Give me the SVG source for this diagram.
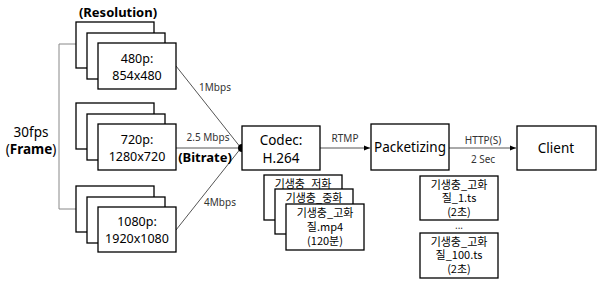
<svg xmlns="http://www.w3.org/2000/svg" width="602" height="284" viewBox="0 0 602 284">
<defs>
<style>
.box{fill:#fff;stroke:#000;stroke-width:1.3}
.t{font-family:"Noto Sans","Noto Sans CJK KR",sans-serif;fill:#000;text-anchor:middle}
.res{font-size:12.5px}
.big{font-size:13.5px}
.lbl{font-size:10px;fill:#333}
.kr{font-family:"Noto Sans CJK KR","Noto Sans",sans-serif;font-size:11px;fill:#000;text-anchor:middle}
.ln{stroke:#555;stroke-width:1;fill:none}
.gl{stroke:#888;stroke-width:1;fill:none}
</style>
<marker id="ah" viewBox="0 0 6 6" refX="6" refY="3" markerWidth="6" markerHeight="6" orient="auto">
<path d="M0,0.5 L6,3 L0,5.5 z" fill="#000"/>
</marker>
</defs>
<rect width="602" height="284" fill="#fff"/>

<g id="connectors">
<path class="gl" d="M76,44 H59 V209 H76"/>
<line class="ln" x1="176" y1="66" x2="241" y2="148"/>
<line class="ln" x1="176" y1="148" x2="241" y2="148"/>
<line class="ln" x1="176" y1="230" x2="241" y2="148"/>
<path d="M242,144 A4,4 0 0 0 242,152 Z" fill="#000"/>
<line class="ln" x1="320" y1="148" x2="370" y2="148" marker-end="url(#ah)"/>
<line class="ln" x1="449" y1="148" x2="516" y2="148" marker-end="url(#ah)"/>
<text class="t lbl" x="215" y="91">1Mbps</text>
<text class="t lbl" x="208" y="141">2.5 Mbps</text>
<text class="t" x="205" y="162" style="font-size:13px;font-weight:bold">(Bitrate)</text>
<text class="t lbl" x="220" y="206">4Mbps</text>
<text class="t lbl" x="345" y="142">RTMP</text>
<text class="t lbl" x="483" y="144">HTTP(S)</text>
<text class="t lbl" x="483" y="163">2 Sec</text>
</g>

<g id="labels">
<text class="t" x="118" y="17" style="font-size:13px;font-weight:bold">(Resolution)</text>
<text class="t" x="31" y="137" style="font-size:13.5px">30fps</text>
<text class="t" x="31" y="154" style="font-size:13.5px">(<tspan font-weight="bold">Frame</tspan>)</text>
</g>

<g id="res480">
<rect class="box" x="76" y="22" width="78" height="46"/>
<rect class="box" x="87" y="33" width="78" height="46"/>
<rect class="box" x="98" y="43" width="78" height="46"/>
<text class="t res" x="137" y="63">480p:</text>
<text class="t res" x="137" y="80">854x480</text>
</g>

<g id="res720">
<rect class="box" x="76" y="103" width="78" height="46"/>
<rect class="box" x="87" y="114" width="78" height="46"/>
<rect class="box" x="98" y="124" width="78" height="46"/>
<text class="t res" x="137" y="144">720p:</text>
<text class="t res" x="137" y="161">1280x720</text>
</g>

<g id="res1080">
<rect class="box" x="76" y="186" width="78" height="46"/>
<rect class="box" x="87" y="197" width="78" height="46"/>
<rect class="box" x="98" y="207" width="78" height="45"/>
<text class="t res" x="137" y="226">1080p:</text>
<text class="t res" x="137" y="243">1920x1080</text>
</g>

<g id="codec">
<rect class="box" x="242" y="126" width="78" height="44"/>
<text class="t big" x="281" y="145">Codec:</text>
<text class="t big" x="281" y="163">H.264</text>
</g>

<g id="packetizing">
<rect class="box" x="371" y="124" width="78" height="46"/>
<text class="t big" x="410" y="152">Packetizing</text>
</g>

<g id="client">
<rect class="box" x="517" y="126" width="79" height="44"/>
<text class="t big" x="556" y="153">Client</text>
</g>

<g id="mp4">
<rect class="box" x="264" y="175" width="78" height="45"/>
<text class="kr" x="303" y="188">기생충_저화</text>
<rect class="box" x="275" y="189" width="78" height="45"/>
<text class="kr" x="314" y="202">기생충_중화</text>
<rect class="box" x="286" y="204" width="78" height="46"/>
<text class="kr" x="325" y="217">기생충_고화</text>
<text class="kr" x="325" y="231">질.mp4</text>
<text class="kr" x="325" y="245">(120분)</text>
</g>

<g id="ts1">
<rect class="box" x="420" y="176" width="78" height="44"/>
<text class="kr" x="459" y="189">기생충_고화</text>
<text class="kr" x="459" y="202">질_1.ts</text>
<text class="kr" x="459" y="216">(2초)</text>
</g>
<text class="t lbl" x="459" y="229">...</text>
<g id="ts100">
<rect class="box" x="420" y="233" width="78" height="45"/>
<text class="kr" x="459" y="246">기생충_고화</text>
<text class="kr" x="459" y="259">질_100.ts</text>
<text class="kr" x="459" y="273">(2초)</text>
</g>
</svg>
